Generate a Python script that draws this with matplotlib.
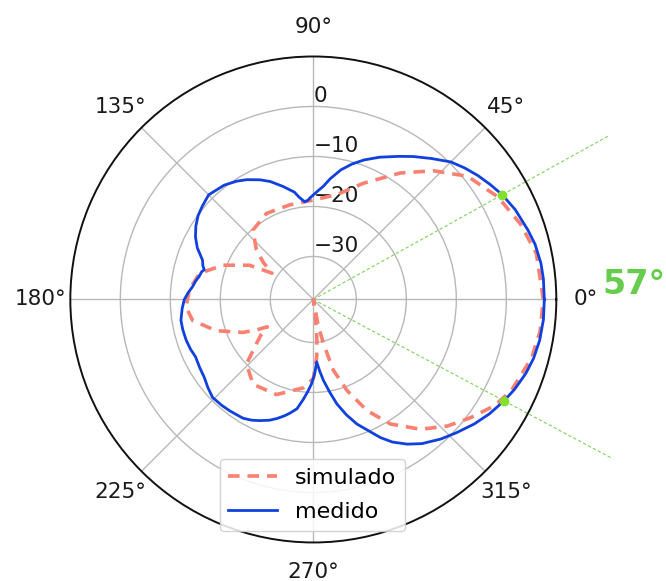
import numpy as np
import matplotlib
matplotlib.use("Agg")
import matplotlib.pyplot as plt

# Radiation pattern readings (angle in degrees, level in dB)
sim_deg = [0, 11.6, 20, 29, 38.6, 47, 55.5, 66.6, 77.3, 90, 104, 118.5, 131, 139,
           143.5, 147.5, 151.8, 159.3, 167.2, 175.8, 183.5, 189.9, 197.8, 205,
           208, 210.7, 214, 218, 224, 234.6, 248.8, 263.5, 270, 273.4, 275,
           277, 279, 280.5, 282.9, 285.8, 290.3, 295.8, 301.8, 309.6, 316.7,
           323.2, 329.6, 335.3, 345, 352, 360]
sim_db = [7.4, 6.95, 5.5, 3.65, 0.9, -3.4, -7.9, -13.25, -17.1, -18.7, -19.1, -19.0,
          -20.2, -23.5, -26.2, -28.8, -24.1, -19.2, -15.2, -13.7, -13.1, -14.1,
          -18.2, -23.0, -25.5, -27.9, -26.0, -24.1, -20.0, -17.8, -18.2, -20.8,
          -22.8, -27.1, -30.4, -35.0, -38.6, -33.5, -29.6, -23.9, -19.2, -13.9,
          -9.3, -4.9, -1.7, 0.8, 3.4, 5.0, 6.6, 7.2, 7.4]

med_deg = [0, 5, 9, 14, 18, 24, 29, 33, 37, 41, 45, 50, 55, 59, 65, 70, 74, 78,
           82, 85, 88, 90, 92, 93, 95, 98, 100, 105, 110, 114, 119, 123, 128,
           131, 135, 140, 144, 148, 152, 156, 160.5, 163, 164.8, 166, 168.6,
           171, 174, 177, 180, 184, 188.9, 193, 197.7, 202, 206, 211, 215.5,
           220, 224.2, 229, 233, 236, 239.4, 243, 246.1, 250, 253, 256, 258.4,
           261.5, 264.1, 266.5, 268.9, 271, 273.1, 275, 277.1, 280, 282.7, 286,
           289.3, 293, 295.9, 299, 303, 307, 312.4, 317, 322.3, 327, 332, 336,
           340.8, 345, 349.7, 355, 360]
med_db = [7.6, 7.6, 7.5, 7.1, 6.5, 5.6, 4.6, 3.6, 2.6, 1.5, 0.3, -1.8, -3.7, -5.2,
          -7.2, -8.9, -10.4, -12.1, -14.2, -15.9, -17.0, -17.7, -18.3, -18.7,
          -19.0, -17.9, -16.8, -15.2, -13.5, -12.4, -11.2, -10.4, -9.6, -9.4,
          -9.0, -9.6, -10.1, -10.9, -11.9, -13.2, -15.1, -15.5, -16.0, -15.6,
          -15.3, -14.8, -14.3, -13.5, -12.8, -12.3, -11.8, -11.8, -11.9, -12.1,
          -12.4, -12.1, -11.8, -11.1, -10.5, -10.6, -10.75, -10.9, -11.0, -11.5,
          -12.1, -12.9, -13.7, -14.6, -15.4, -16.5, -18.4, -20.1, -21.8, -23.7,
          -26.1, -24.3, -22.3, -19.8, -17.2, -14.6, -12.2, -10.0, -7.9, -6.0,
          -4.1, -2.5, -0.8, 0.5, 2.1, 3.4, 4.6, 5.5, 6.4, 7.0, 7.4, 7.6, 7.6]

# Half-power (-3 dB) beam edges
beam_deg = [29, -28]
beam_db = [4.6, 4.6]
beam_label = "57°"

r_ticks = [-30, -20, -10, 0]
r_min, r_max = -38.6, 10
theta_ticks = [0, 45, 90, 135, 180, 225, 270, 315]

fig = plt.figure(figsize=(6.66, 5.81), dpi=100)
ax = fig.add_axes([0.1056, 0.0663, 0.7297, 0.8365], projection="polar")

ax.plot(np.deg2rad(sim_deg), sim_db, color="salmon", linestyle=(0, (3.2, 2.2)),
        linewidth=2.6, label="simulado", zorder=3)
ax.plot(np.deg2rad(med_deg), med_db, color="#1040de", linewidth=2.0,
        label="medido", zorder=4)

# Beam-width guide lines and -3 dB points
for a in beam_deg:
    ax.plot([np.deg2rad(a), np.deg2rad(a)], [r_min, 28.8], color="#7fd45a",
            linestyle=(0, (3, 2)), linewidth=0.8, clip_on=False, zorder=2)
ax.plot(np.deg2rad(beam_deg), beam_db, "o", color="#84e02e", markersize=6,
        zorder=5)

ax.set_ylim(r_min, r_max)
ax.set_yticks(r_ticks)
ax.set_rlabel_position(90)
ax.set_thetagrids(theta_ticks, [f"{t}°" for t in theta_ticks])
ax.tick_params(axis="both", labelsize=15.5, colors="#1a1a1a")
ax.tick_params(axis="x", pad=11)
ax.grid(True, color="#b8b8b8", linewidth=1.0)
ax.spines["polar"].set_linewidth(1.4)
ax.spines["polar"].set_color("#111111")

fig.text(0.952, 0.510, beam_label, color="#66cc4c", fontsize=24,
         fontweight="bold", ha="center", va="center")

leg = ax.legend(loc="lower center", bbox_to_anchor=(0.469, 0.086),
                bbox_transform=fig.transFigure, fontsize=16, framealpha=0.85,
                handlelength=2.2, borderpad=0.4, labelspacing=0.65,
                borderaxespad=0)
leg.get_frame().set_edgecolor("#cccccc")

fig.savefig("out.png", dpi=100)
